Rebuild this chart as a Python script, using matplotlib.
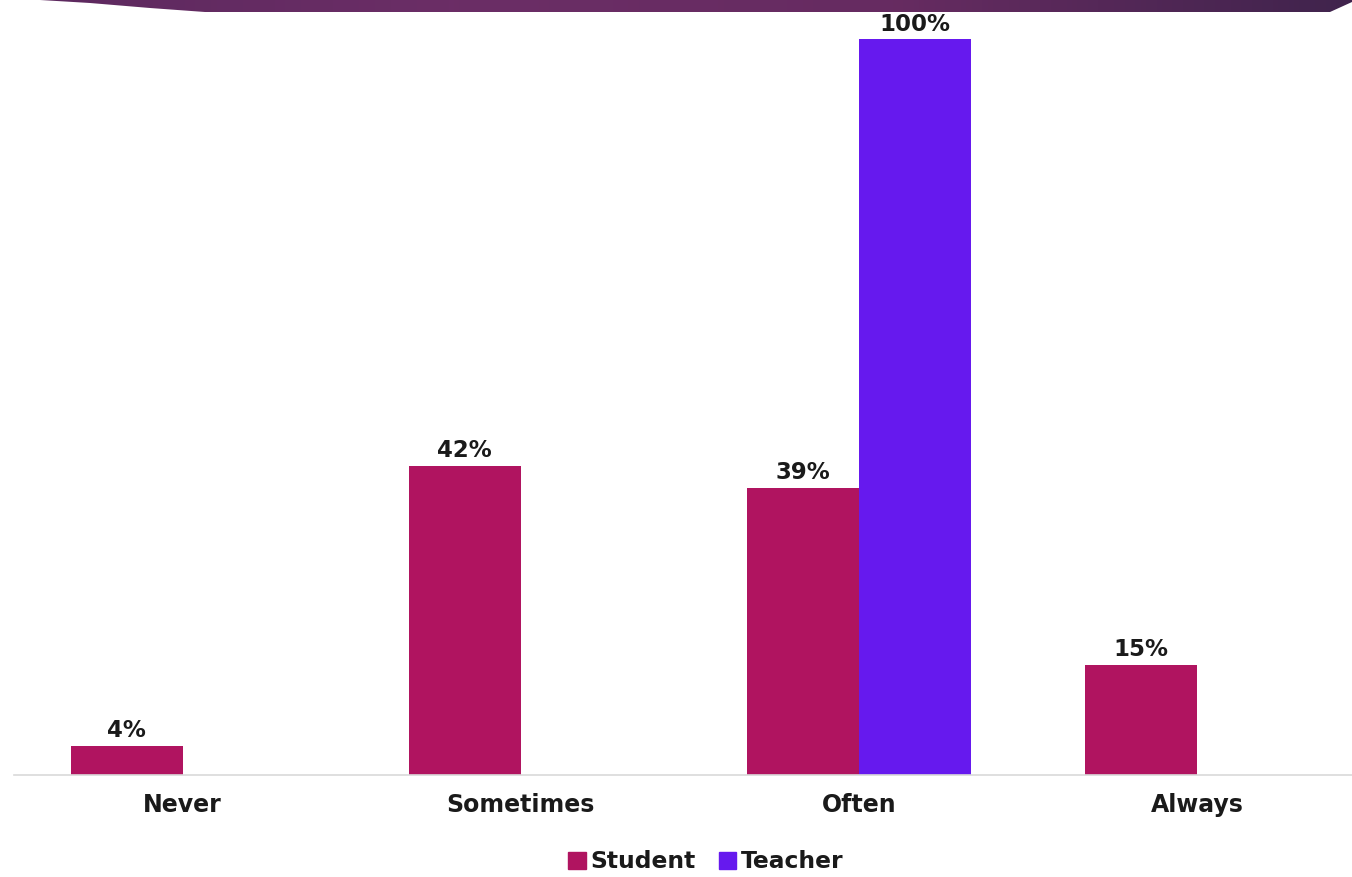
"""Grouped bar chart: Student vs Teacher response frequency."""

import matplotlib

matplotlib.use("Agg")
import matplotlib.pyplot as plt
import numpy as np
from matplotlib.patches import Polygon, Patch

categories = ["Never", "Sometimes", "Often", "Always"]
student = [4, 42, 39, 15]
teacher = [None, None, 100, None]
series_names = ["Student", "Teacher"]

STUDENT_COLOR = "#B01460"
TEACHER_COLOR = "#6619EE"
TEXT_COLOR = "#1A1A1A"

plt.rcParams["font.family"] = ["DejaVu Sans"]

fig = plt.figure(figsize=(13.52, 8.77), dpi=100)

# slide banner at the top
banner = fig.add_axes([0, 1 - 12 / 877, 1, 12 / 877])
banner.set_xlim(0, 1352)
banner.set_ylim(12, 0)
banner.axis("off")
grad = np.linspace(0, 1, 256)
cols = np.array([[0.36, 0.16, 0.37], [0.42, 0.18, 0.40], [0.40, 0.17, 0.38], [0.25, 0.14, 0.30]])
xs = np.linspace(0, 1, len(cols))
img = np.stack([np.interp(grad, xs, cols[:, k]) for k in range(3)], axis=-1)[None, :, :]
im = banner.imshow(img, extent=(0, 1352, 12, 0), aspect="auto")
clip = Polygon(
    [(40, 0), (1352, 0), (1352, 2), (1330, 12), (205, 12), (150, 8), (90, 3)],
    closed=True,
    transform=banner.transData,
    facecolor="none",
    edgecolor="none",
)
banner.add_patch(clip)
im.set_clip_path(clip)

ax = fig.add_axes([0.01, 1 - 775 / 877, 0.99, (775 - 39) / 877])
x = np.arange(len(categories))
width = 0.331

s_bars = ax.bar(x - width / 2, student, width, color=STUDENT_COLOR)
t_vals = [v if v is not None else 0 for v in teacher]
t_bars = ax.bar(x + width / 2, t_vals, width, color=TEACHER_COLOR)
for bar, v in zip(t_bars, teacher):
    if v is None:
        bar.set_visible(False)

for bars, vals in ((s_bars, student), (t_bars, teacher)):
    for bar, v in zip(bars, vals):
        if v is None:
            continue
        ax.annotate(
            f"{v}%",
            (bar.get_x() + bar.get_width() / 2, bar.get_height()),
            xytext=(0, 2.5),
            textcoords="offset points",
            ha="center",
            va="bottom",
            fontsize=16.5,
            fontweight="bold",
            color=TEXT_COLOR,
            annotation_clip=False,
        )

ax.set_xlim(-(183 - 14) / 338, (1352 - 183) / 338)
ax.set_ylim(0, 100)
ax.set_xticks(x)
ax.set_xticklabels(categories, fontsize=17, fontweight="bold", color=TEXT_COLOR)
ax.tick_params(axis="x", length=0, pad=13)
ax.set_yticks([])
for side in ("top", "right", "left"):
    ax.spines[side].set_visible(False)
ax.spines["bottom"].set_color("#D9D9D9")
ax.spines["bottom"].set_linewidth(1.2)

handles = [Patch(color=STUDENT_COLOR), Patch(color=TEACHER_COLOR)]
leg = fig.legend(
    handles=handles,
    labels=series_names,
    loc="center",
    bbox_to_anchor=(706 / 1352, 1 - 862 / 877),
    ncol=2,
    frameon=False,
    handlelength=0.75,
    handleheight=0.75,
    handletextpad=0.2,
    columnspacing=1.0,
    prop={"weight": "bold", "size": 16.8},
)
for t in leg.get_texts():
    t.set_color(TEXT_COLOR)

fig.savefig("out.png", dpi=100)
